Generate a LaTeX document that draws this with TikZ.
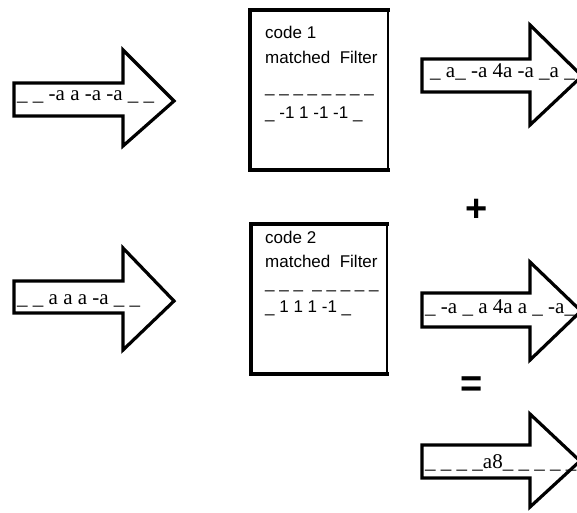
\documentclass[tikz,border=0pt]{standalone}
\usepackage{fontspec}
\setmainfont{Liberation Serif}
\newfontfamily\arial{Liberation Sans}
\begin{document}
\begin{tikzpicture}[x=1pt,y=-1pt,
  arrowshape/.style={draw=black,line width=3.2pt,fill=white,line join=miter},
  arrowtext/.style={anchor=base west,inner sep=0pt,font=\fontsize{21}{24}\selectfont},
  boxtext/.style={anchor=base west,inner sep=0pt,font=\arial\fontsize{17}{20}\selectfont},
  boxthin/.style={draw=black,line width=1.8pt},
  boxthick/.style={draw=black,line width=4pt,line cap=rect},
  optext/.style={inner sep=0pt,font=\arial\bfseries\fontsize{38}{40}\selectfont}]
\useasboundingbox (0,0) rectangle (577,512);
\fill[white] (0,0) rectangle (577,512);
% left arrows
\draw[arrowshape] (14,83) -- (123,83) -- (123,50) -- (174,101) -- (123,146) -- (123,116) -- (14,116) -- cycle;
\node[arrowtext] (in1) at (17,100) {\_ \_ -a a -a -a \_ \_};
\draw[arrowshape] (14,281) -- (123,281) -- (123,248) -- (174,301) -- (123,350) -- (123,313) -- (14,313) -- cycle;
\node[arrowtext] (in2) at (17,304) {\_ \_ a a a -a \_ \_};
% boxes
\draw[boxthin] (250,10) rectangle (388,170);
\draw[boxthick] (388,10) -- (250,10) -- (250,170) -- (388,170);
\node[boxtext] (c1a) at (265,38) {code 1};
\node[boxtext] (c1b) at (265,63) {matched\ \ Filter};
\node[boxtext] (c1c) at (265,92) {\_ \_ \_ \_ \_ \_ \_ \_};
\node[boxtext] (c1d) at (265,118) {\_ -1 1 -1 -1 \_};
\draw[boxthin] (251,224) rectangle (387,374);
\draw[boxthick] (387,224) -- (251,224) -- (251,374) -- (387,374);
\node[boxtext] (c2a) at (265,243) {code 2};
\node[boxtext] (c2b) at (265,267) {matched\ \ Filter};
\node[boxtext] (c2c) at (265,288) {\_ \_ \_\ \ \_ \_ \_ \_ \_};
\node[boxtext] (c2d) at (265,312) {\_ 1 1 1 -1 \_};
% right arrows
\draw[arrowshape] (422,59) -- (530,59) -- (530,25) -- (582,76) -- (530,125) -- (530,92) -- (422,92) -- cycle;
\node[arrowtext] (out1) at (430,77) {\_ a\_ -a 4a -a \_a \_};
\draw[arrowshape] (422,293) -- (530,293) -- (530,262) -- (581,311) -- (530,360) -- (530,327) -- (422,327) -- cycle;
\node[arrowtext] (out2) at (425,313) {\_ -a \_ a 4a a \_ -a\_};
\draw[arrowshape] (422,445) -- (530,445) -- (530,414) -- (580,461) -- (530,507) -- (530,478) -- (422,478) -- cycle;
\node[arrowtext] (sum) at (425,468) {\_ \_ \_ \_a8\_ \_ \_ \_ \_};
% operators
\node[optext] (plus) at (477,210) {+};
\node[optext] (eq) at (472,387) {=};
\end{tikzpicture}
\end{document}
